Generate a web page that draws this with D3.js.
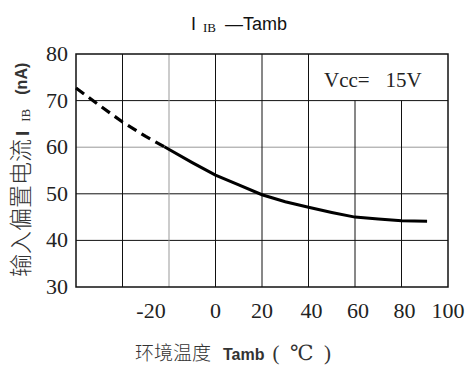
<!DOCTYPE html>
<html><head><meta charset="utf-8">
<script src="https://cdn.jsdelivr.net/npm/d3@7"></script>
<style>body{margin:0;background:#fff}svg{display:block}.serif{font-family:"Liberation Serif","DejaVu Serif",serif}</style>
</head><body>
<script>
const xTicks = [-20, 0, 20, 40, 60, 80, 100];
const yTicks = [30, 40, 50, 60, 70, 80];
const xGrid = [-40, -20, 0, 20, 40, 60, 80];
const dashedT = [-60, -50, -40, -30, -22];
const dashedI = [72.7, 69.0, 65.4, 62.3, 60.1];
const solidT = [-22, -10, 0, 10, 20, 30, 40, 50, 60, 70, 80, 91];
const solidI = [60.1, 56.7, 54.0, 51.9, 49.8, 48.3, 47.1, 46.0, 45.0, 44.6, 44.2, 44.1];

const W = 468, H = 378;
const svg = d3.select("body").append("svg").attr("width", W).attr("height", H);
const x = d3.scaleLinear().domain([-60, 100]).range([76, 448]);
const y = d3.scaleLinear().domain([30, 80]).range([287, 54]);
const sans = "'Liberation Sans',Arial,sans-serif";
const cjk = "'Noto Sans CJK SC',sans-serif";

// horizontal grid
const greyY = [60];
svg.append("g").selectAll("line").data(yTicks.filter(v => v > 30 && v < 80)).join("line")
  .attr("x1", x(-60)).attr("x2", x(100)).attr("y1", d => y(d)).attr("y2", d => y(d))
  .attr("stroke", d => greyY.includes(d) ? "#999" : "#111").attr("stroke-width", 1);
// vertical grid (60, 80 only below the Vcc box)
const greyX = [-20];
svg.append("g").selectAll("line").data(xGrid).join("line")
  .attr("x1", d => x(d)).attr("x2", d => x(d))
  .attr("y1", d => d >= 60 ? y(70) : y(80)).attr("y2", y(30))
  .attr("stroke", d => greyX.includes(d) ? "#999" : "#111").attr("stroke-width", 1);
// frame
svg.append("rect").attr("x", x(-60)).attr("y", y(80)).attr("width", x(100) - x(-60)).attr("height", y(30) - y(80))
  .attr("fill", "none").attr("stroke", "#111").attr("stroke-width", 1.5);

// curve
const line = d3.line().x(d => x(d[0])).y(d => y(d[1]));
svg.append("path").datum(dashedT.map((t, i) => [t, dashedI[i]])).attr("d", line)
  .attr("fill", "none").attr("stroke", "#000").attr("stroke-width", 3.2).attr("stroke-dasharray", "10,6");
svg.append("path").datum(solidT.map((t, i) => [t, solidI[i]])).attr("d", line)
  .attr("fill", "none").attr("stroke", "#000").attr("stroke-width", 3);

// y tick labels
svg.append("g").selectAll("text").data(yTicks).join("text").attr("class", "serif")
  .attr("x", 68).attr("y", d => y(d) + 7).attr("text-anchor", "end")
  .style("font-size", "22px").attr("fill", "#222").text(d => d);
// x tick labels
svg.append("g").selectAll("text").data(xTicks).join("text").attr("class", "serif")
  .attr("x", d => x(d) + (d === -20 ? -18 : (d >= 40 && d <= 80 ? 3 : 0))).attr("y", 318).attr("text-anchor", "middle")
  .style("font-size", "22px").attr("fill", "#222").text(d => d);

// Vcc label
svg.append("text").attr("class", "serif").attr("x", 324).attr("y", 87).style("font-size", "21px").attr("fill", "#222")
  .attr("xml:space", "preserve").text("Vcc=   15V");

// title
const t = svg.append("text").attr("x", 191).attr("y", 30).attr("fill", "#111");
t.append("tspan").style("font-family", sans).style("font-size", "18px").text("I");
t.append("tspan").attr("class", "serif").style("font-size", "13px").attr("dx", 7).attr("dy", 2).text("IB");
t.append("tspan").style("font-family", sans).style("font-size", "18px").attr("dx", 9).attr("dy", -2).text("—Tamb");

// x axis title
const xt = svg.append("text").attr("x", 135).attr("y", 360).attr("fill", "#333");
xt.append("tspan").style("font-family", cjk).style("font-weight", 300).style("font-size", "19px").text("环境温度");
xt.append("tspan").style("font-family", sans).style("font-weight", "bold").style("font-size", "16px").attr("dx", 12).text("Tamb");
xt.append("tspan").attr("class", "serif").style("font-size", "21px").attr("dx", 8).attr("xml:space", "preserve").text("(  ℃  )");

// y axis title
const yt = svg.append("text").attr("transform", "translate(29,277) rotate(-90)").attr("fill", "#333");
yt.append("tspan").style("font-family", cjk).style("font-weight", 300).style("font-size", "23px").text("输入偏置电流");
yt.append("tspan").style("font-family", sans).style("font-weight", "bold").style("font-size", "19px").attr("dx", 3).text("I");
yt.append("tspan").attr("class", "serif").style("font-size", "13px").attr("dx", 9).attr("dy", 1).text("IB");
yt.append("tspan").style("font-family", sans).style("font-weight", "bold").style("font-size", "16px").attr("dx", 14).attr("dy", -3).text("(nA)");
</script>
</body></html>
